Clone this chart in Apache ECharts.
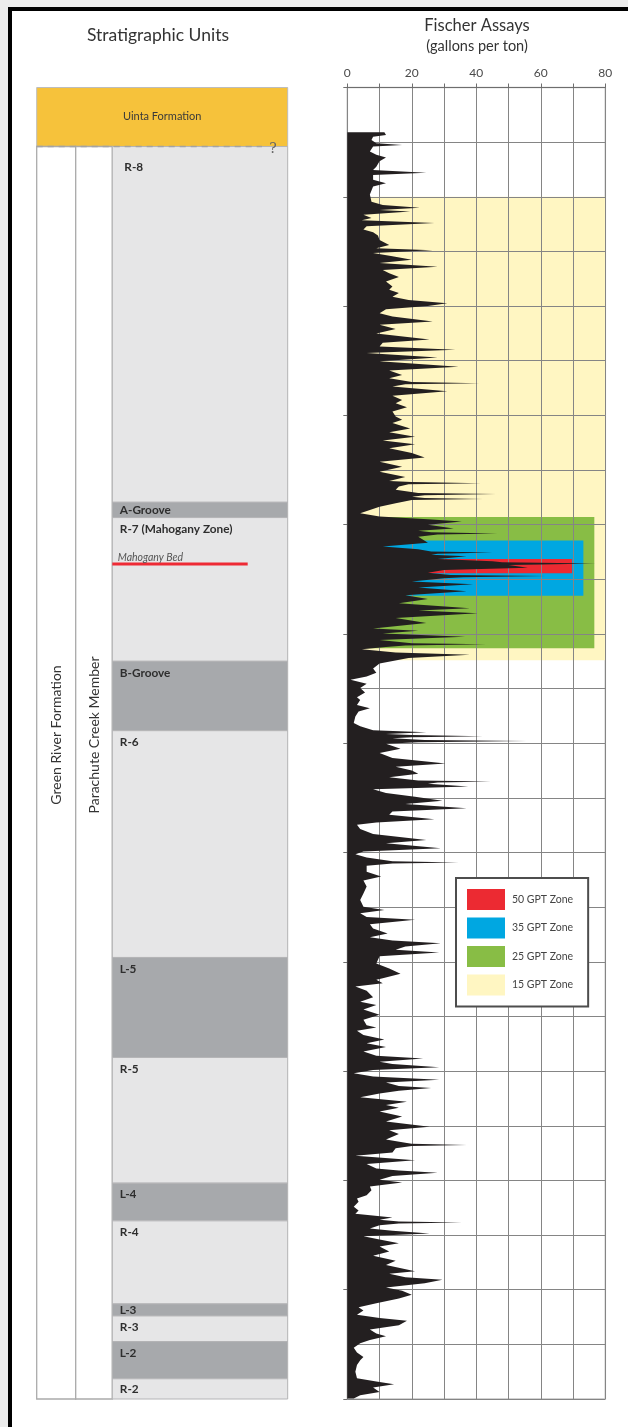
<!DOCTYPE html>
<html>
<head>
<meta charset="utf-8">
<script src="https://cdn.jsdelivr.net/npm/echarts@6/dist/echarts.min.js"></script>
<style>
  html, body { margin: 0; padding: 0; background: #ececec; }
  #sheet { position: absolute; left: 8px; top: 7px; width: 620px; height: 1420px; background: #fff;
           border-top: 4px solid #000; border-left: 4px solid #000; box-sizing: border-box; }
  #chart { position: absolute; left: 0; top: 0; width: 628px; height: 1427px; }
</style>
</head>
<body>
<div id="sheet"></div>
<div id="chart"></div>
<script>
// ---- Fischer assay log: [depth (ft below top of section), oil yield (gallons per ton)] ----
const assayLog = [
  [82,11.5],[87,12],[90,8],[96,7.5],[102,9],[105,17],[108,8],[117,7],[123,9],[128,12],[135,10],[145,9],
  [151,8],[156,24.5],[160,8],[169,8],[175,12],[181,8],[196,7],[209,7.5],[215,11],[220,22.5],[224,10],
  [227,19.5],[233,5],[239,7.5],[243,4.5],[248,27],[254,6],[260,5],[265,8],[271,9.5],[279,10],[288,13],
  [294,9],[298,26.5],[303,8],[309,14],[315,20],[321,10],[328,28],[334,11],[340,13],[347,16],[355,12],
  [364,14],[370,13],[376,16],[383,14],[389,19],[395,31],[400,25],[406,12],[413,10],[419,14],[428,26.5],
  [434,10],[442,15],[450,9],[461,25.5],[467,11],[474,10],[480,33.5],[486,6],[494,28],[501,10],[511,34.5],
  [518,13],[526,17],[532,13],[539,20],[541,41],[543,18],[547,14],[556,31],[564,14],[572,17],[578,15],
  [585,18.5],[593,14],[602,15],[608,17],[614,14],[624,19.5],[631,13],[639,21],[646,11],[653,21],[660,13],
  [669,20],[677,24],[685,10],[694,17],[703,10],[713,18],[720,13],[722,20],[724,41.5],[726,19],[730,16],
  [736,15],[742,22],[744,46],[746,24],[749,20],[751,24],[753,42],[755,20],[761,15],[767,10],[773,7],
  [779,4],[785,10],[790,25],[794,35.5],[800,25],[807,33],[811,22],[814,26],[816,46.5],[818,28],[822,22],
  [833,25],[840,11],[845,22],[849,26],[851,45],[853,28],[855,26],[858,37],[863,28],[867,45],[869,48],
  [871,77],[873,60],[874,50],[879,56],[883,30],[888,25],[892,32],[894,61.5],[896,36],[898,30],[904,20],
  [909,39],[915,22],[922,37],[929,18],[936,25],[944,16],[953,38],[957,22],[962,40.5],[971,15],[980,24.5],
  [990,8],[994,22],[999,11],[1005,36.5],[1011,10],[1017,20],[1019,43],[1021,18],[1024,12],[1028,4.5],
  [1034,15],[1038,38],[1044,19],[1054,10],[1063,8],[1071,9],[1078,6],[1084,1],[1091,6],[1099,4],
  [1107,5.5],[1116,3],[1121,4],[1130,3],[1136,7],[1142,3.5],[1151,2.5],[1163,2],[1169,4],[1176,8],
  [1180,24.5],[1183,12],[1185,20],[1187,42],[1189,20],[1191,14],[1194,24],[1196,55.5],[1198,22],[1201,12],
  [1210,16.5],[1218,10],[1227,14],[1237,30.5],[1243,15],[1250,20],[1256,22],[1262,13],[1268,22],
  [1270,44.5],[1272,28],[1274,25],[1279,37.5],[1284,8],[1291,12],[1298,21],[1305,29.5],[1311,18],
  [1319,37],[1325,14],[1331,13],[1339,27],[1345,9],[1349,3],[1357,4],[1366,8],[1377,24.5],[1383,12],
  [1392,29],[1398,5],[1403,2.5],[1409,6],[1416,14],[1418,34.5],[1420,14],[1424,6],[1435,6],[1444,10.5],
  [1451,5],[1462,6],[1475,5],[1487,4],[1499,5],[1505,11.5],[1511,4],[1518,6],[1523,21],[1531,7],[1539,8],
  [1548,12.5],[1555,7],[1561,14],[1566,29],[1572,18],[1578,15],[1583,28.5],[1590,10],[1603,9],[1612,13],
  [1622,16.5],[1630,11],[1633,9],[1639,11],[1645,2.5],[1653,6],[1659,7],[1665,8],[1673,4],[1679,9],
  [1687,5],[1697,10],[1706,5],[1716,6],[1720,9],[1726,3],[1734,5],[1742,11.5],[1749,6],[1756,12],
  [1764,5],[1772,9],[1777,23.5],[1783,10],[1787,14],[1793,28.5],[1798,8],[1804,2],[1810,8],[1816,28.5],
  [1821,12],[1827,16],[1831,26],[1836,16],[1841,10],[1848,4],[1856,18.5],[1862,12],[1867,16],[1874,10],
  [1883,17],[1892,12],[1902,25.5],[1908,13],[1915,16],[1925,12],[1931,18],[1933,20],[1935,37],[1937,20],
  [1941,15],[1949,14],[1955,2.5],[1963,21],[1970,6],[1978,9],[1982,16],[1986,28],[1992,14],[1999,10],
  [2004,17],[2011,7],[2018,7.5],[2027,6],[2033,3],[2039,3.5],[2048,2],[2055,3.5],[2061,2.5],[2068,14],
  [2072,10],[2075,16],[2077,35.5],[2079,16],[2082,10],[2088,7],[2092,14],[2097,25.5],[2102,5],[2108,10],
  [2115,16],[2121,10],[2130,13],[2138,8],[2147,15],[2155,12],[2166,21],[2171,13],[2177,18],[2182,29.5],
  [2188,24],[2196,12],[2202,17],[2209,20],[2216,16],[2225,9],[2232,3.5],[2238,5],[2246,3],[2252,10],
  [2257,18.5],[2265,16],[2273,7],[2280,9],[2285,12],[2292,7],[2298,4],[2306,2],[2315,3],[2323,5],
  [2329,4],[2338,3],[2350,2.5],[2362,3],[2368,9],[2373,14.5],[2379,8],[2387,10],[2393,4],[2399,2]
];

// ---- Oil-shale grade zones (legend order) ----
const zoneNames  = ['50 GPT Zone', '35 GPT Zone', '25 GPT Zone', '15 GPT Zone'];
const zoneTop    = [863, 829, 786, 200];
const zoneBase   = [889, 930, 1026, 1048];
const zoneExtent = [69.7, 73.2, 76.6, 80];   // right edge of each zone box, gallons per ton
const zoneColors = ['#ec2a32', '#00a7e1', '#88bd45', '#fff6c2'];

// ---- Stratigraphic units ----
const unitNames = ['R-8', 'A-Groove', 'R-7 (Mahogany Zone)', 'B-Groove', 'R-6', 'L-5', 'R-5',
                   'L-4', 'R-4', 'L-3', 'R-3', 'L-2', 'R-2'];
const unitTop   = [108, 759, 787, 1050, 1177, 1592, 1775, 2005, 2074, 2226, 2248, 2295, 2363];
const unitBase  = [759, 787, 1050, 1177, 1592, 1775, 2005, 2074, 2226, 2248, 2295, 2363, 2400];
const unitKind  = ['rich', 'lean', 'rich', 'lean', 'rich', 'lean', 'rich',
                   'lean', 'rich', 'lean', 'rich', 'lean', 'rich'];
const formationNames = ['Uinta Formation', 'Green River Formation', 'Parachute Creek Member'];
const formationTop   = [0, 108, 108];
const formationBase  = [108, 2400, 2400];
const mahoganyBedDepth = 872;

// axis ticks
const gptTicks = [0, 20, 40, 60, 80];
const DEPTH_MAX = 2400;

// ---- layout (fractions of the stratigraphic column width) ----
const FORMATION_COL_END = 0.1554;
const MEMBER_COL_END = 0.3012;
const CONTACT_DASH_END = 0.8976;
const BED_LINE_END = 0.8406;
const FONT = 'Lato, "Open Sans", sans-serif';

const chart = echarts.init(document.getElementById('chart'), null, { renderer: 'canvas' });

function rectBetween(api, x0, d0, x1, d1) {
  const a = api.coord([x0, d0]);
  const b = api.coord([x1, d1]);
  return { x: a[0], y: a[1], width: b[0] - a[0], height: b[1] - a[1] };
}

const zoneSeries = zoneNames.map((name, i) => ({
  type: 'custom',
  name: name,
  xAxisIndex: 0,
  yAxisIndex: 0,
  z: 2,
  itemStyle: { color: zoneColors[i] },
  silent: true,
  encode: { x: [0, 1], y: [2, 3] },
  data: [[0, zoneExtent[i], zoneTop[i], zoneBase[i]]],
  renderItem: function (params, api) {
    return {
      type: 'rect',
      shape: rectBetween(api, 0, zoneTop[i], zoneExtent[i], zoneBase[i]),
      style: { fill: zoneColors[i] }
    };
  }
})).reverse();

const option = {
  animation: false,
  backgroundColor: 'transparent',
  grid: [
    { left: 347.3, top: 87.5, width: 258, height: 1311.5, show: true, borderColor: '#c3c3c3', borderWidth: 1.5 },
    { left: 36.7, top: 87.5, width: 251, height: 1311.5 }
  ],
  xAxis: [
    {
      gridIndex: 0, type: 'value', position: 'top', min: 0, max: 80, interval: 10, z: 3,
      axisLine: { show: true, lineStyle: { color: '#6e6e6e', width: 1 } },
      axisTick: { show: true, length: 4, lineStyle: { color: '#6e6e6e', width: 1 } },
      axisLabel: {
        margin: 8, color: '#4a4a4a', fontSize: 12, fontFamily: FONT,
        formatter: v => (gptTicks.indexOf(v) >= 0 ? String(v) : '')
      },
      splitLine: { show: true, lineStyle: { color: '#858585', width: 1 } }
    },
    { gridIndex: 1, type: 'value', min: 0, max: 1, show: false }
  ],
  yAxis: [
    {
      gridIndex: 0, type: 'value', inverse: true, min: 0, max: DEPTH_MAX, interval: 100, z: 3,
      axisLine: { show: false }, axisTick: { show: false }, axisLabel: { show: false },
      splitLine: { show: true, lineStyle: { color: '#858585', width: 1 } }
    },
    {
      gridIndex: 0, type: 'value', inverse: true, min: 0, max: DEPTH_MAX, interval: 200, position: 'left', z: 3,
      axisLine: { show: false }, axisLabel: { show: false }, splitLine: { show: false },
      axisTick: { show: true, length: 4, lineStyle: { color: '#6e6e6e', width: 1 } }
    },
    { gridIndex: 1, type: 'value', inverse: true, min: 0, max: DEPTH_MAX, show: false }
  ],
  legend: {
    data: zoneNames,
    orient: 'vertical',
    left: 456, top: 878,
    padding: [11, 15, 11, 11],
    itemWidth: 38, itemHeight: 21, itemGap: 7.5,
    icon: 'rect',
    selectedMode: false,
    backgroundColor: '#ffffff',
    borderColor: '#4d4d4d', borderWidth: 2,
    z: 10,
    textStyle: { fontFamily: FONT, fontSize: 10.5, color: '#444', padding: [0, 0, 0, 2] }
  },
  graphic: [
    { type: 'text', x: 158, y: 35, style: { text: 'Stratigraphic Units', font: '17.5px ' + FONT, fill: '#333', align: 'center', verticalAlign: 'middle' } },
    { type: 'text', x: 477, y: 26, style: { text: 'Fischer Assays', font: '16.5px ' + FONT, fill: '#333', align: 'center', verticalAlign: 'middle' } },
    { type: 'text', x: 477, y: 46, style: { text: '(gallons per ton)', font: '14.5px ' + FONT, fill: '#333', align: 'center', verticalAlign: 'middle' } },
    { type: 'text', x: 56, y: 735, rotation: Math.PI / 2, style: { text: formationNames[1], font: '14px ' + FONT, fill: '#333', align: 'center', verticalAlign: 'middle' }, z: 20 },
    { type: 'text', x: 94, y: 735, rotation: Math.PI / 2, style: { text: formationNames[2], font: '14px ' + FONT, fill: '#333', align: 'center', verticalAlign: 'middle' }, z: 20 }
  ],
  series: zoneSeries.concat([
    {
      // assay log drawn as a filled profile from zero yield
      type: 'custom',
      name: 'Fischer assay',
      xAxisIndex: 0, yAxisIndex: 0, z: 5, silent: true,
      encode: { x: 0, y: 1 },
      data: assayLog.map(p => [p[1], p[0]]),
      renderItem: function (params, api) {
        if (params.dataIndex !== 0) return null;
        const pts = [api.coord([0, assayLog[0][0]])];
        assayLog.forEach(p => pts.push(api.coord([p[1], p[0]])));
        pts.push(api.coord([0, assayLog[assayLog.length - 1][0]]));
        return { type: 'polygon', shape: { points: pts }, style: { fill: '#231f20' } };
      }
    },
    {
      // formation / member columns
      type: 'custom',
      name: 'formations',
      xAxisIndex: 1, yAxisIndex: 2, z: 1, silent: true,
      encode: { x: 0, y: [1, 2] },
      data: formationNames.map((n, i) => [0, formationTop[i], formationBase[i]]),
      renderItem: function (params, api) {
        const i = params.dataIndex;
        if (i === 0) {
          const r = rectBetween(api, 0, formationTop[i], 1, formationBase[i]);
          return {
            type: 'group',
            children: [
              { type: 'rect', shape: r, style: { fill: '#f6c23b', stroke: '#bdbdbd', lineWidth: 1 } },
              { type: 'text', x: r.x + r.width / 2, y: r.y + r.height / 2 - 1,
                style: { text: formationNames[i], font: '11px ' + FONT, fill: '#3a3a3a', align: 'center', verticalAlign: 'middle' } }
            ]
          };
        }
        const x0 = i === 1 ? 0 : FORMATION_COL_END;
        const x1 = i === 1 ? FORMATION_COL_END : MEMBER_COL_END;
        return { type: 'rect', shape: rectBetween(api, x0, formationTop[i], x1, formationBase[i]),
                 style: { fill: '#ffffff', stroke: '#ababab', lineWidth: 1.3 } };
      }
    },
    {
      // informal oil-shale units (rich R-zones and lean L-zones / grooves)
      type: 'custom',
      name: 'units',
      xAxisIndex: 1, yAxisIndex: 2, z: 2, silent: true,
      encode: { x: 0, y: [1, 2] },
      data: unitNames.map((n, i) => [MEMBER_COL_END, unitTop[i], unitBase[i]]),
      renderItem: function (params, api) {
        const i = params.dataIndex;
        const r = rectBetween(api, MEMBER_COL_END, unitTop[i], 1, unitBase[i]);
        const lean = unitKind[i] === 'lean';
        // first unit sits below the uncertain Uinta contact, so its label drops a little lower
        const dy = Math.min(11.5, r.height / 2) + (i === 0 ? 9.5 : 0);
        const dx = i === 0 ? 12 : 7.5;
        return {
          type: 'group',
          children: [
            { type: 'rect', shape: r, style: { fill: lean ? '#a7a9ac' : '#e6e6e7', stroke: '#b4b4b6', lineWidth: 1 } },
            { type: 'text', x: r.x + dx, y: r.y + dy,
              style: { text: unitNames[i], font: 'bold 11.8px ' + FONT, fill: '#2e2e2e', align: 'left', verticalAlign: 'middle' } }
          ]
        };
      }
    },
    {
      // uncertain Uinta / Green River contact and the Mahogany Bed marker
      type: 'custom',
      name: 'markers',
      xAxisIndex: 1, yAxisIndex: 2, z: 4, silent: true,
      encode: { x: 0, y: 1 },
      data: [[0, formationBase[0]], [MEMBER_COL_END, mahoganyBedDepth]],
      renderItem: function (params, api) {
        if (params.dataIndex === 0) {
          const a = api.coord([0, formationBase[0]]);
          const b = api.coord([CONTACT_DASH_END, formationBase[0]]);
          return {
            type: 'group',
            children: [
              { type: 'line', shape: { x1: a[0], y1: a[1], x2: b[0], y2: b[1] },
                style: { stroke: '#a3a3a3', lineWidth: 1.5, lineDash: [6, 5] } },
              { type: 'text', x: b[0] + 11, y: a[1] + 3,
                style: { text: '?', font: '14px "DejaVu Serif", serif', fill: '#666', align: 'center', verticalAlign: 'middle' } }
            ]
          };
        }
        const a = api.coord([MEMBER_COL_END, mahoganyBedDepth]);
        const b = api.coord([BED_LINE_END, mahoganyBedDepth]);
        return {
          type: 'group',
          children: [
            { type: 'line', shape: { x1: a[0], y1: a[1], x2: b[0], y2: b[1] },
              style: { stroke: '#ee2a35', lineWidth: 3 } },
            { type: 'text', x: a[0] + 5.5, y: a[1] - 6,
              style: { text: 'Mahogany Bed', font: 'italic 10.5px ' + FONT, fill: '#555', align: 'left', verticalAlign: 'middle' } }
          ]
        };
      }
    }
  ])
};

chart.setOption(option);
</script>
</body>
</html>
